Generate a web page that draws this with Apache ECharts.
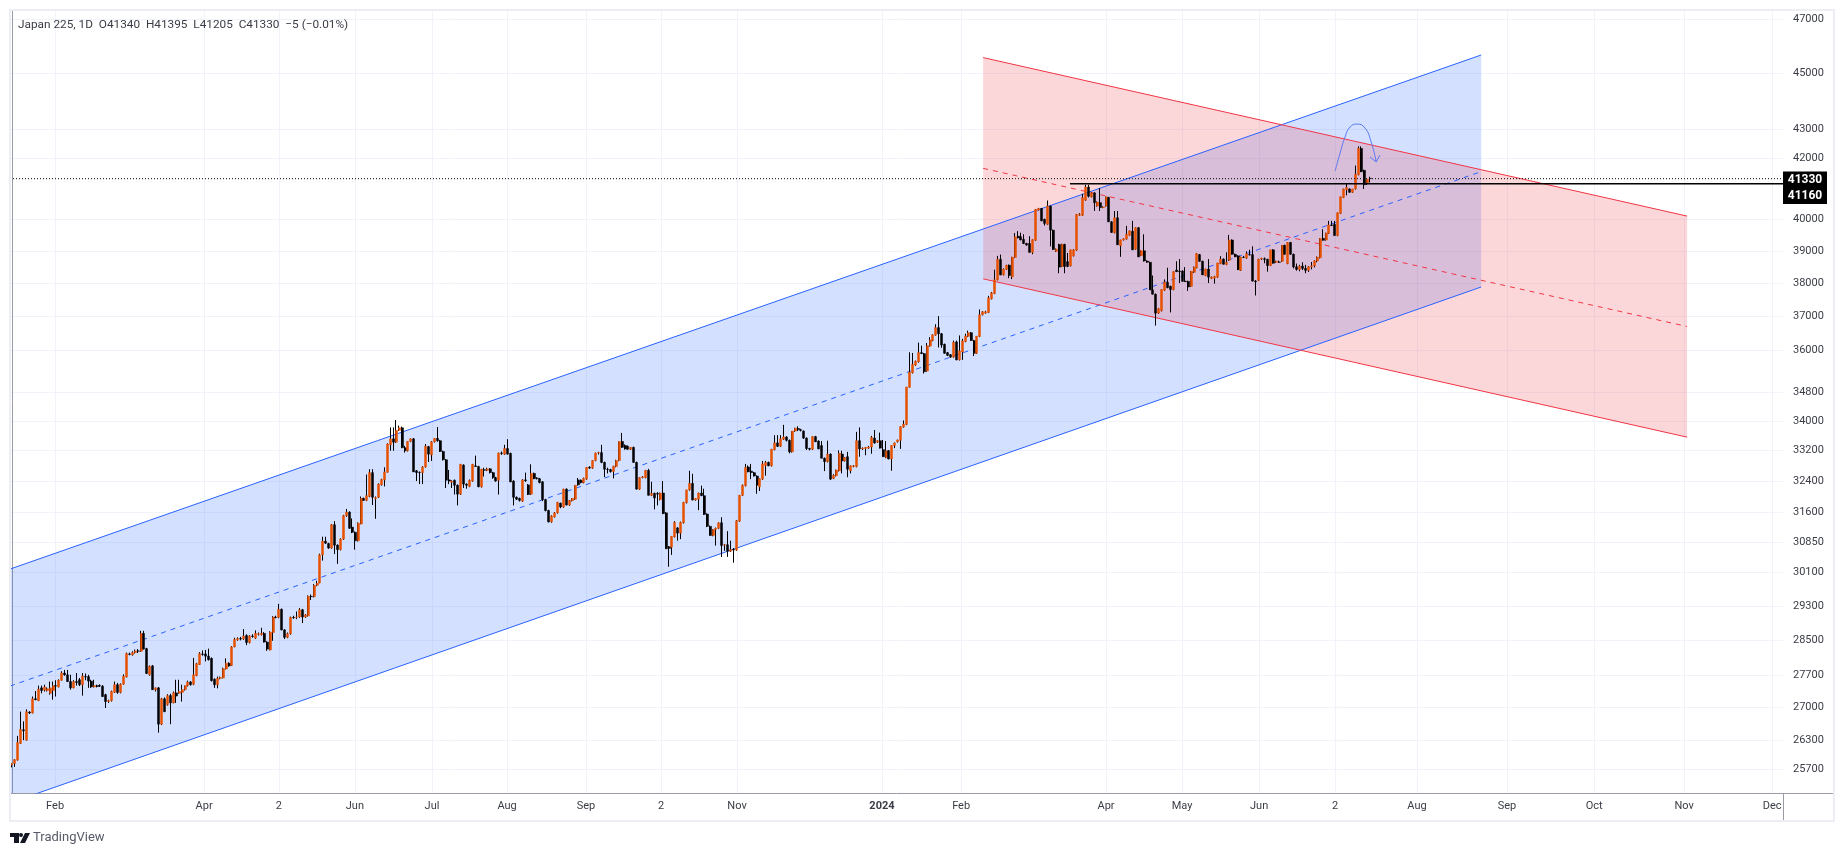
<!DOCTYPE html>
<html>
<head>
<meta charset="utf-8">
<title>Japan 225</title>
<script src="https://cdn.jsdelivr.net/npm/echarts@6/dist/echarts.min.js"></script>
<style>
  html, body { margin: 0; padding: 0; background: #fff; }
  #chart { width: 1843px; height: 856px; }
</style>
</head>
<body>
<div id="chart"></div>
<script>
// daily bars, each row is [open, high, low, close]
var barsJanToApr23 = [
  [25780,25820,25730,25810],[25810,25900,25740,25890],[25880,26390,25870,26250],[26230,26910,26220,26530],
  [26520,26700,26300,26500],[26300,26960,26290,26910],[26900,26920,26860,26880],[26880,27240,26870,27190],
  [27190,27360,27160,27170],[27150,27480,27140,27400],[27430,27480,27310,27370],[27380,27500,27350,27450],
  [27370,27440,27350,27410],[27310,27570,27280,27430],[27370,27570,27170,27480],[27480,27600,27240,27470],
  [27450,27620,27440,27600],[27600,27800,27590,27760],[27760,27830,27700,27720],[27720,27830,27560,27570],
  [27570,27720,27390,27430],[27430,27600,27420,27570],[27570,27760,27480,27550],[27610,27650,27470,27500],
  [27500,27760,27260,27690],[27680,27750,27600,27670],[27680,27720,27430,27580],[27580,27610,27430,27450],
  [27450,27610,27440,27480],[27480,27500,27440,27460],[27480,27510,27450,27470],[27470,27490,27230,27240],
  [27280,27300,26990,27130],[27130,27170,27100,27150],[27150,27370,27130,27350],[27330,27570,27320,27500],
  [27500,27540,27300,27330],[27330,27530,27310,27510],[27510,27730,27500,27690],[27670,28220,27660,28200],
  [28190,28220,28160,28180],[28170,28250,28150,28220],[28220,28290,28200,28260],[28260,28300,28210,28250],[28250,28720,28240,28660],
  [28660,28720,28290,28300],[28310,28330,27740,27750],[27720,27930,27700,27910],[27920,27940,27390,27390],
  [27390,27440,27350,27430],[27430,27450,26460,26640],[26640,27210,26620,27190],[27190,27220,26900,26910],
  [27060,27290,27040,27260],[27260,27300,26640,27100],[27100,27350,27090,27320],[27320,27610,27100,27250],
  [27310,27610,27300,27350],[27330,27500,27130,27390],[27390,27480,27370,27480],[27480,27590,27460,27560],
  [27560,27580,27480,27500],[27510,28100,27490,27720],[27700,27990,27690,27970],[27950,28230,27940,28200],
  [28190,28270,28150,28180],[28190,28280,28020,28140],[28140,28310,28040,28060],[28090,28110,27570,27590],
  [27620,27640,27430,27500],[27500,27680,27420,27640],[27640,27680,27620,27660],[27650,27880,27640,27860],
  [27850,28090,27840,27980],[27980,28000,27900,27920],[27930,28370,27920,28350],[28350,28560,28340,28520],
  [28510,28570,28490,28540],[28540,28580,28500,28530],[28530,28760,28510,28600],[28610,28640,28390,28450],
  [28450,28620,28430,28600],[28600,28640,28560,28590],[28550,28730,28530,28660],[28640,28680,28610,28650],
  [28630,28790,28610,28660],[28660,28690,28450,28460],[28460,28480,28260,28300],[28280,28710,28270,28690],
  [28680,29060,28490,29040],[29040,29070,29010,29030],[29030,29350,29010,29220],[29220,29240,28730,28740],
  [28740,28760,28530,28570],[28570,28680,28550,28650],[28650,29050,28630,29030],[29030,29070,29000,29020],
  [29030,29170,28990,29040],[29040,29250,29020,29210],[29210,29230,28900,29040],[29040,29110,29020,29090],
  [29070,29550,29050,29530],[29530,29570,29440,29520],[29520,29820,29500,29790],[29790,29900,29770,29840]
];
var barsMayJun23 = [
  [29850,30560,29840,30530],[30530,30980,30390,30870],[30870,30980,30800,30820],[30810,30830,30680,30700],
  [30700,31300,30680,31280],[31280,31370,30550,30770],[30770,30790,30310,30660],[30660,30940,30640,30920],
  [30920,31530,30900,31510],[31510,31680,31480,31600],[31600,31620,31180,31190],[31220,31440,31070,31090],
  [31090,31110,30660,30880],[30880,31340,30860,31320],[31300,32000,31290,31950],[31950,31970,31890,31900],
  [31900,32570,31880,32020],[32000,32710,31980,32620],[32620,32710,31780,31980],[31940,32000,31430,31970],
  [31980,32340,31960,32320],[32300,32460,32280,32440],[32430,32760,32260,32640],[32630,33400,32620,33380],
  [33360,33830,33200,33520],[33520,33830,33200,33430],[33430,34030,33410,33750],[33750,33880,33730,33820]
];
var barsJunToOct23 = [
  [33820,33850,33270,33280],[33280,33330,33150,33200],[33200,33450,33180,33450],[33450,33530,33430,33520],
  [33520,33540,32640,32640],[32670,32690,32400,32620],[32630,32650,32320,32620],[32620,32790,32320,32770],
  [32770,33380,32750,33320],[33310,33330,32900,33110],[33090,33460,32930,33440],[33440,33540,33420,33530],
  [33530,33840,33440,33470],[33470,33490,33170,33180],[33180,33200,32940,32960],[32960,32980,32220,32420],
  [32430,32690,32320,32400],[32370,32420,32220,32400],[32420,32440,32050,32290],
  [32290,32310,31770,32060],[32060,32850,32040,32840],[32820,32840,32220,32320],[32320,32340,32200,32290],
  [32260,32440,32240,32420],[32400,32850,32380,32840],[32800,33070,32780,32780],[32780,32800,32240,32250],
  [32250,32720,32230,32710],[32700,32750,32520,32680],[32680,32750,32660,32720],[32720,32740,32600,32620],
  [32620,32640,32460,32490],[32490,32510,32380,32400],[32420,33150,32050,33140],[33140,33180,33090,33130],
  [33110,33360,33090,33260],[33260,33510,33100,33110],[33130,33150,32370,32380],[32400,32420,31770,31980],
  [31980,32000,31910,31930],[31950,31970,31870,31900],[31880,32450,31860,32430],[32430,32620,32380,32410],
  [32300,32320,32040,32050],[32060,32840,32040,32600],[32600,32620,32450,32460],[32480,32500,32440,32470],
  [32460,32480,32340,32360],[32380,32400,31880,31920],[31920,31940,31620,31640],[31640,31660,31340,31350],
  [31350,31520,31330,31500],[31480,31600,31460,31580],[31580,31860,31560,31850],[31830,31840,31700,31730],
  [31730,32200,31710,32190],[32190,32210,31770,31780],[31780,31910,31760,31900],[31890,31960,31870,31950],
  [31930,32290,31910,32290],[32430,32480,32280,32300],[32420,32440,32340,32360],[32360,32490,32340,32470],
  [32450,32760,32430,32760],[32760,32790,32720,32740],[32740,32950,32720,32940],[32940,33150,32920,33140],
  [33140,33170,33100,33150],[33150,33360,32870,32890],[32890,32910,32500,32710],[32710,32750,32600,32700],
  [32700,32720,32620,32650],[32650,32800,32470,32790],[32780,32960,32760,32940],[32940,33450,32920,33450],
  [33450,33680,33280,33290],[33340,33370,33230,33250],[33320,33340,33230,33240],[33240,33300,33220,33290],
  [33290,33310,32880,32890],[32890,32910,32180,32190],[32190,32500,32170,32490],[32490,32530,32470,32510]
];
var barsOctToDec23 = [
  [32490,32690,32470,32680],[32680,32720,32030,32030],[32030,32380,32010,32080],[32080,32100,31670,31960],
  [32080,32110,31770,32060],[31920,32100,31900,32090],[32090,32400,31550,31560],[31580,31600,30680,30680],
  [30730,30750,30240,30690],[30720,30990,30530,30990],[30980,31370,30960,31340],[31200,31220,30880,31070],
  [31070,31360,30920,31340],[31330,31860,31310,31850],[31840,32170,31820,32170],[32170,32670,32150,32340],
  [32340,32590,31900,31910],[31910,31950,31890,31950],[31930,32100,31650,32090],[32090,32280,32010,32020],
  [32020,32200,31530,31540],[31550,31570,31220,31240],[31240,31260,31010,31010],[31010,31170,30990,31160],
  [31160,31210,30760,31190],[31190,31340,31170,31330],[31330,31470,30480,30760],[30770,30800,30630,30780],
  [30780,31120,30480,30620],[30620,30880,30600,30660],[30660,30700,30340,30650],[30650,31400,30630,31380],
  [31370,32040,31350,32030],[32030,32310,32010,32290],[32280,32850,32260,32760],[32770,32810,32630,32640],
  [32660,32850,32450,32620],[32620,32640,32520,32530],[32530,32550,32070,32290],[32250,32470,32140,32460],
  [32450,32930,32430,32850],[32800,32930,32540,32890],[32890,32910,32790,32800],[32800,33250,32780,33240],
  [33230,33620,33210,33410],[33410,33620,33300,33320],[33320,33620,33300,33520],[33510,33900,33490,33570],
  [33570,33590,33450,33480],[33480,33500,33130,33170],[33170,33730,33150,33730],[33730,33820,33710,33810],
  [33800,33860,33730,33770],[33770,33790,33720,33750],[33730,33750,33520,33540],[33540,33560,33220,33260],
  [33260,33280,33210,33240],[33240,33590,33220,33580]
];
var barsDec23ToFeb24 = [
  [33580,33600,33440,33440],[33460,33480,33240,33250],[33340,33460,33000,33000],[33000,33020,32660,32910],
  [32910,33470,32890,33110],[33110,33130,32430,32450],[32470,32580,32450,32550],[32540,32700,32520,32690],
  [32670,33210,32650,33130],[33110,33200,32600,32930],[32930,33030,32910,33020],[33040,33170,32500,32710],
  [32670,32810,32600,32800],[32780,32820,32760,32800],[32780,33710,32760,33470],[33470,33830,33040,33250],
  [33250,33290,33220,33270],[33260,33300,33080,33290],[33270,33330,33250,33300],[33300,33600,33120,33560],
  [33540,33760,33390,33410],[33430,33480,33410,33470],[33470,33690,33260,33270],[33230,33490,33040,33040],
  [33020,33460,33000,33200],[33200,33220,32970,32980],[32980,33350,32670,33340],[33340,33420,33270,33410],
  [33440,33500,33420,33490],[33480,33860,33250,33850],[33840,34020,33820,33920],[33910,34950,33890,34950],
  [34940,35940,34930,35370],[35350,35920,35330,35590],[35570,35700,35550,35680],[35660,36220,35640,35930],
  [35930,36130,35890,35900],[35900,35920,35330,35380],[35400,36210,35380,36130],[36120,36380,36100,36300],
  [36280,36460,36260,36450],[36440,36760,36420,36660],[36660,37000,36080,36480],[36480,36500,36070,36150],
  [36170,36190,35900,35910],[35930,35950,35830,35850],[35870,35890,35780,35800],[35800,36280,35780,36230],
  [36240,36280,35710,35720],[35720,36430,35700,35980],[35950,36330,35720,36270],[36250,36480,36230,36410],
  [36400,36570,36380,36510],[36510,36530,36270,36280],[36280,36300,35830,35910],[35910,36410,35890,36410],
  [36400,37200,36380,37040]
];
var barsFebToJun24 = [
  [37040,37150,37020,37130],[37090,37160,37070,37130],[37110,37610,37090,37550],[37520,37730,37500,37700],
  [37680,38410,37660,38100],[38100,38840,38080,38730],[38730,38880,38240,38250],[38250,38450,38230,38430],
  [38420,38560,38400,38550],[38550,38570,38150,38230],[38190,38810,38120,38800],[38790,39560,38770,39440],
  [39460,39620,39390,39410],[39440,39570,39330,39340],[39360,39520,39210,39230],[39230,39250,39160,39180],
  [39230,39460,38940,38950],[38950,39360,38890,39350],[39330,40330,39310,40320],[40300,40370,40280,40350],
  [40350,40370,39940,39950],[40000,40020,39800,39870],[39840,40610,39820,40430],[40430,40450,39140,39650],
  [39650,39670,39030,39040],[38980,39070,38960,39050],[39200,39220,38300,38490],[38510,39220,38490,39200],
  [39200,39220,38300,38510],[38660,38930,38490,38510],[38530,39030,38510,39030],[38840,39050,38820,39030],
  [39020,40170,39000,40160],[40130,40200,40110,40160],[40130,40830,40110,40700],[40620,41130,40600,41050],
  [41050,41130,40710,40750],[40730,40880,40710,40860],[40860,40880,40270,40540],[40430,40580,40410,40560],
  [40540,41020,40270,40380],[40380,40420,40360,40400],[40430,40740,40410,40730],[40710,40730,39910,39920],
  [39920,39940,39570,39580],[39570,40270,39550,40050],[40050,40270,39180,39190],[39160,39350,38810,39340],
  [39340,39390,39320,39380],[39370,39790,39350,39520],[39490,39640,39470,39630],[39620,39950,39020,39030],
  [39050,39740,39030,39730],[39730,39750,38800,38810],[38850,39010,38830,39000],[39000,39520,38660,38680],
  [38680,38700,38630,38640],[38640,38660,37790,37790],[37790,38230,37650,37660],[37660,37680,36720,37090],
  [37090,37240,37070,37220],[37160,37810,37140,37800],[37780,38110,37760,38030],[38020,38470,37840,37860],
  [37900,37920,37110,37800],[37800,38360,37780,38350],[38400,38670,38340,38350],[38370,38740,38000,38350],
  [38370,38390,38050,38050],[38060,38490,38040,38040],[38050,38070,37760,37880],[37900,38370,37880,38360],
  [38330,38510,38310,38490],[38470,38930,38450,38910],[38880,38900,38660,38670],[38670,38690,38250,38250],
  [38230,38440,38210,38430],[38430,38740,38000,38180],[38140,38200,38120,38180],[38150,38220,37980,38200],
  [38180,38620,38160,38620],[38600,38830,38580,38740],[38740,38760,38570,38580],[38570,38950,38550,38640],
  [38700,39500,38680,39340],[39340,39360,38880,38890],[38890,38910,38800,38810],[38840,38860,38400,38410],
  [38390,38810,38370,38800],[38800,38840,38770,38790],[38770,38980,38750,38910],[38880,39030,38850,38870],
  [38880,39140,38050,38060],[38060,38090,37620,38040],[38080,38750,38060,38740],[38740,38780,38710,38760],
  [38750,38790,38610,38730],[38730,38750,38350,38540],[38540,39030,38520,39030],[39030,39050,38600,38610],
  [38640,38690,38620,38670],[38650,38690,38620,38640],[38670,39180,38650,39170],[39170,39190,38880,38890],
  [38600,39270,38580,39260],[39260,39280,38880,38890]
];
var barsJunJul24 = [
  [38890,38910,38450,38500],[38500,38600,38380,38420],[38420,38560,38360,38520],[38520,38640,38400,38450],
  [38450,38560,38300,38390],[38390,38520,38340,38500],[38500,38650,38420,38530],[38530,38700,38480,38680],
  [38680,38820,38640,38800],[38780,39400,38760,39390],[39390,39680,39320,39330],[39340,39570,39320,39560],
  [39550,39950,39530,39820],[39820,39950,39790,39800],[39840,39950,39480,39480],[39480,40220,39460,40210],
  [40190,40740,40170,40730],[40710,41000,40690,40990],[40960,41180,40780,41040],[40990,41010,40870,40880],
  [40880,40990,40860,40990],[40990,41770,40970,41480],[41460,42420,41440,42350],[42350,42420,41550,41560],
  [41610,41630,40990,41130],[41180,41310,41120,41310],[41340,41395,41205,41330]
];

// x axis runs in bar numbers, future months go past the last bar
var xFrom = -0.68;
var xTo = 603.8;
var tickBars = [14.7,65.5,91,116.9,143.2,168.8,195.7,221.3,247.2,296.6,323.6,373,398.9,425.2,451.1,479,509.7,539.4,570.1,600.1];
var tickLabels = ['Feb','Apr','2','Jun','Jul','Aug','Sep','2','Nov','2024','Feb','Apr','May','Jun','2','Aug','Sep','Oct','Nov','Dec'];
var priceTicks = [25700,26300,27000,27700,28500,29300,30100,30850,31600,32400,33200,34000,34800,36000,37000,38000,39000,40000,42000,43000,45000,47000];

// drawn channels, [bar, price] at both ends
var blueUpper = [[-0.68,30183],[500.9,45657]];
var blueMiddle = [[-0.68,27470],[500.9,41567]];
var blueLower = [[-0.68,25003],[500.9,37879]];
var redUpper = [[331.1,45562],[571.1,40104]];
var redMiddle = [[331.1,41675],[571.1,36693]];
var redLower = [[331.1,38128],[571.1,33566]];
var lastPriceLine = [[-0.68,41330],[603.8,41330]];
var levelLine = [[360.7,41160],[603.8,41160]];
var arcPoints = [[451.1,41586],[452.8,42192],[454.5,42743],[456.2,43086],[458.6,43188],[461.3,43048],[463.4,42568],[465.1,41892]];
var arrowHead = [[463,42056],[465.1,41892],[466.4,42125]];

var bars = [].concat(barsJanToApr23, barsMayJun23, barsJunToOct23, barsOctToDec23, barsDec23ToFeb24, barsFebToJun24, barsJunJul24);
var wicks = bars.map(function (b, i) { return [i, b[0], b[3], b[2], b[1]]; });
var bodies = bars.map(function (b, i) {
  return [i, b[0], b[3], Math.min(b[0], b[3]), Math.max(b[0], b[3])];
});

var BLUE = '#2962ff', RED = '#f23645', ORANGE = '#e65100';
var AXIS = '#9a9ca5', TEXT = '#3a3d46';
var FONT = 'Roboto, "Liberation Sans", sans-serif';

function band(upper, lower, fill) {
  return {
    type: 'custom', coordinateSystem: 'cartesian2d', clip: true, silent: true, z: 1,
    data: [[upper[0][0], upper[0][1]]],
    renderItem: function (params, api) {
      return {
        type: 'polygon',
        shape: { points: [api.coord(upper[0]), api.coord(upper[1]), api.coord(lower[1]), api.coord(lower[0])] },
        style: { fill: fill }
      };
    }
  };
}

function line(data, color, type, z, width) {
  return {
    type: 'line', data: data, symbol: 'none', silent: true, z: z || 2, clip: true,
    lineStyle: { color: color, width: width || 1, type: type || 'solid' }
  };
}

function badge(text, dy) {
  return {
    show: true, formatter: text, distance: 0, offset: [22, dy],
    color: '#fff', backgroundColor: '#000', fontFamily: FONT, fontSize: 12, fontWeight: 'bold',
    width: 44, height: 16.5, lineHeight: 16.5, align: 'center', verticalAlign: 'middle'
  };
}

var myChart = echarts.init(document.getElementById('chart'));

var dotted = line(lastPriceLine, '#000', [1, 2], 6);
dotted.endLabel = badge('41330', 1);
var level = line(levelLine, '#000', 'solid', 5, 1.5);
level.endLabel = badge('41160', 12);

var arc = line(arcPoints, '#5b78f0', 'solid', 6);
arc.smooth = 0.5;

myChart.setOption({
  animation: false,
  backgroundColor: '#fff',
  textStyle: { fontFamily: FONT },
  title: {
    text: 'Japan 225, 1D  O41340  H41395  L41205  C41330  \u22125 (\u22120.01%)',
    left: 18, top: 19, padding: 0,
    textStyle: { color: TEXT, fontSize: 11.8, fontWeight: 'normal', fontFamily: FONT }
  },
  grid: { left: 10, right: 60, top: 10, bottom: 63 },
  xAxis: {
    type: 'value', min: xFrom, max: xTo,
    axisLine: { show: true, onZero: false, lineStyle: { color: AXIS } },
    axisTick: { show: false, customValues: tickBars },
    splitLine: { show: true, lineStyle: { color: '#f0f3fa' } },
    axisLabel: {
      customValues: tickBars, color: TEXT, fontSize: 11, margin: 8, fontFamily: FONT,
      hideOverlap: false, showMinLabel: true, showMaxLabel: true,
      formatter: function (v) {
        var t = tickLabels[tickBars.indexOf(v)];
        return t === '2024' ? '{b|2024}' : t;
      },
      rich: { b: { fontWeight: 'bold', fontSize: 11, color: TEXT, fontFamily: FONT } }
    }
  },
  yAxis: {
    type: 'log', position: 'right', min: 25204, max: 47342,
    axisLine: { show: true, lineStyle: { color: AXIS } },
    axisTick: { show: false, customValues: priceTicks },
    minorTick: { show: false },
    minorSplitLine: { show: false },
    splitLine: { show: true, lineStyle: { color: '#f0f3fa' } },
    axisLabel: {
      customValues: priceTicks, color: TEXT, fontSize: 11, margin: 10, fontFamily: FONT,
      formatter: function (v) { return String(Math.round(v)); }
    }
  },
  series: [
    band(blueUpper, blueLower, 'rgba(41,98,255,0.2)'),
    band(redUpper, redLower, 'rgba(242,54,69,0.2)'),
    line(blueUpper, BLUE),
    line(blueLower, BLUE),
    line(blueMiddle, BLUE, [5, 5]),
    line(redUpper, RED),
    line(redLower, RED),
    line(redMiddle, RED, [5, 5]),
    {
      type: 'candlestick', data: wicks, barWidth: 1, z: 3, silent: true,
      itemStyle: { color: '#000', color0: '#000', borderColor: '#000', borderColor0: '#000', borderWidth: 1 }
    },
    {
      type: 'candlestick', data: bodies, barWidth: 2.5, z: 4, silent: true,
      itemStyle: { color: ORANGE, color0: '#000', borderColor: ORANGE, borderColor0: '#000', borderWidth: 0.5 }
    },
    level,
    dotted,
    arc,
    line(arrowHead, '#5b78f0', 'solid', 6)
  ],
  graphic: [
    { type: 'rect', silent: true, z: 10, shape: { x: 10, y: 10, width: 1824, height: 811 }, style: { fill: 'none', stroke: '#eceef4', lineWidth: 2 } },
    { type: 'line', silent: true, z: 11, shape: { x1: 1783, y1: 793.5, x2: 1833, y2: 793.5 }, style: { stroke: AXIS, lineWidth: 1 } },
    { type: 'line', silent: true, z: 11, shape: { x1: 1783.5, y1: 793, x2: 1783.5, y2: 820 }, style: { stroke: AXIS, lineWidth: 1 } },
    // TradingView mark
    { type: 'polygon', silent: true, shape: { points: [[10,833],[19,833],[19,843],[14,843],[14,837],[10,837]] }, style: { fill: '#131722' } },
    { type: 'circle', silent: true, shape: { cx: 21, cy: 835, r: 2 }, style: { fill: '#131722' } },
    { type: 'polygon', silent: true, shape: { points: [[25,833],[30,833],[25,843],[20,843]] }, style: { fill: '#131722' } },
    { type: 'text', silent: true, left: 33, top: 831, style: { text: 'TradingView', fill: '#555a66', fontSize: 13, fontFamily: FONT } }
  ]
});
</script>
</body>
</html>
